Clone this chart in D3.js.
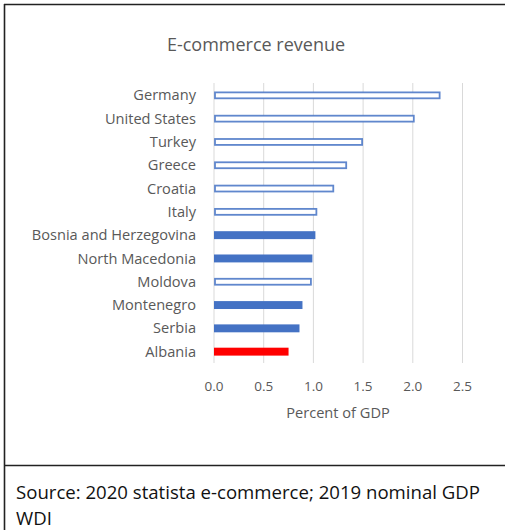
<!DOCTYPE html>
<html>
<head>
<meta charset="utf-8">
<script src="https://cdn.jsdelivr.net/npm/d3@7"></script>
<style>
  html, body { margin: 0; padding: 0; background: #fff; }
  svg { display: block; }
  text { font-family: "Open Sans", Lato, sans-serif; }
</style>
</head>
<body>
<svg id="chart" width="505" height="530"></svg>
<script>
// E-commerce revenue as a share of GDP, by country
const countries = ["Germany", "United States", "Turkey", "Greece", "Croatia", "Italy",
  "Bosnia and Herzegovina", "North Macedonia", "Moldova", "Montenegro", "Serbia", "Albania"];
const values = [2.27, 2.01, 1.49, 1.33, 1.20, 1.03, 1.02, 0.99, 0.975, 0.89, 0.86, 0.75];
// bar style per country: outline = comparison economy, filled = regional peer, highlight = focus
const barKinds = ["outline", "outline", "outline", "outline", "outline", "outline",
  "filled", "filled", "outline", "filled", "filled", "highlight"];
const xTicks = [0, 0.5, 1.0, 1.5, 2.0, 2.5];
const chartTitle = "E-commerce revenue";
const xAxisTitle = "Percent of GDP";
const sourceNote = ["Source: 2020 statista e-commerce; 2019 nominal GDP", "WDI"];

const svg = d3.select("#chart");
const blue = "#4472C4", red = "#FF0000", gray = "#595959";

// frame
svg.append("line").attr("x1", 4).attr("x2", 505).attr("y1", 4.5).attr("y2", 4.5)
  .attr("stroke", "#222").attr("stroke-width", 1.6);
svg.append("line").attr("x1", 4.5).attr("x2", 4.5).attr("y1", 4).attr("y2", 530)
  .attr("stroke", "#222").attr("stroke-width", 1.6);
svg.append("line").attr("x1", 4).attr("x2", 505).attr("y1", 465.5).attr("y2", 465.5)
  .attr("stroke", "#222").attr("stroke-width", 1.4);

const x = d3.scaleLinear().domain([0, 2.5]).range([214, 462.5]);
const y = d3.scaleBand().domain(countries).range([83.7, 363.3]).paddingInner(0.66).paddingOuter(0.33);

// gridlines
svg.append("g").selectAll("line").data(xTicks).join("line")
  .attr("x1", d => x(d)).attr("x2", d => x(d))
  .attr("y1", 83).attr("y2", 363)
  .attr("stroke", "#d9d9d9").attr("stroke-width", 1);

// bars
const bars = svg.append("g").selectAll("rect").data(countries).join("rect");
bars.each(function(c, i) {
  const kind = barKinds[i];
  const r = d3.select(this);
  const h = y.bandwidth();
  if (kind === "outline") {
    r.attr("x", x(0) + 1).attr("y", y(c) + 1)
     .attr("width", x(values[i]) - x(0) - 1).attr("height", h - 2)
     .attr("fill", "#fff").attr("stroke", blue).attr("stroke-width", 1.8)
     .attr("stroke-opacity", 0.85);
  } else {
    r.attr("x", x(0)).attr("y", y(c))
     .attr("width", x(values[i]) - x(0)).attr("height", h)
     .attr("fill", kind === "highlight" ? red : blue);
  }
});

// category labels
svg.append("g").selectAll("text").data(countries).join("text")
  .attr("x", 196).attr("y", d => y(d) + y.bandwidth() / 2)
  .attr("dy", "0.35em").attr("text-anchor", "end")
  .attr("font-size", 14.6).attr("fill", gray).text(d => d);

// x tick labels
svg.append("g").selectAll("text").data(xTicks).join("text")
  .attr("x", d => x(d)).attr("y", 386).attr("dy", "0.35em")
  .attr("text-anchor", "middle").attr("font-size", 13.5).attr("fill", gray)
  .text(d3.format(".1f"));

// titles
svg.append("text").attr("x", 256).attr("y", 45).attr("dy", "0.35em")
  .attr("text-anchor", "middle").attr("font-size", 18).attr("fill", gray).text(chartTitle);
svg.append("text").attr("x", 338).attr("y", 413).attr("dy", "0.35em")
  .attr("text-anchor", "middle").attr("font-size", 14.6).attr("fill", gray).text(xAxisTitle);

// source note
svg.append("g").selectAll("text").data(sourceNote).join("text")
  .attr("x", 16).attr("y", (d, i) => 492 + i * 26).attr("dy", "0.35em")
  .attr("font-size", 18.6).attr("fill", "#111").text(d => d);
</script>
</body>
</html>
